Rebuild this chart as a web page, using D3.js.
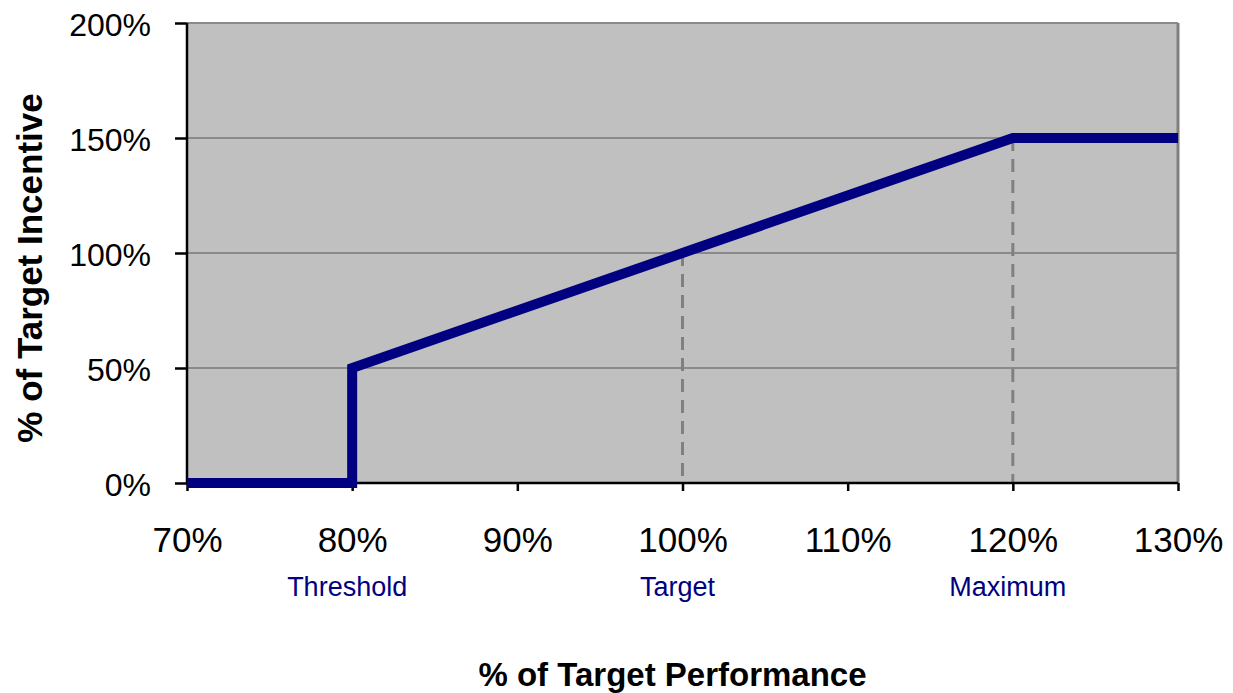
<!DOCTYPE html>
<html>
<head>
<meta charset="utf-8">
<script src="https://cdn.jsdelivr.net/npm/d3@7"></script>
<style>
  html, body { margin: 0; padding: 0; background: #fff; }
  svg { display: block; font-family: "Liberation Sans", Arial, sans-serif; }
</style>
</head>
<body>
<svg id="chart" width="1233" height="693"></svg>
<script>
// Incentive payout curve: % of target incentive earned vs % of target performance
const perfPoints = [70, 80, 80, 120, 130];
const incentivePoints = [0, 0, 50, 150, 150];

const xTickValues = [70, 80, 90, 100, 110, 120, 130];
const yTickValues = [0, 50, 100, 150, 200];

const milestoneNames = ["Threshold", "Target", "Maximum"];
const milestonePerf = [80, 100, 120];
const milestoneIncentive = [50, 100, 150];

const xTitle = "% of Target Performance";
const yTitle = "% of Target Incentive";

const W = 1233, H = 693;
const margin = { top: 23, right: 55, bottom: 210, left: 187 };
const iw = W - margin.left - margin.right;
const ih = H - margin.top - margin.bottom;

const svg = d3.select("#chart");
const g = svg.append("g").attr("transform", `translate(${margin.left},${margin.top})`);

const x = d3.scaleLinear().domain([70, 130]).range([0, iw]);
const y = d3.scaleLinear().domain([0, 200]).range([ih, 0]);

// plot background
g.append("rect").attr("x", 0).attr("y", 0).attr("width", iw).attr("height", ih)
  .attr("fill", "#c0c0c0");

// horizontal gridlines
g.selectAll("line.grid").data(yTickValues.filter(d => d > 0)).join("line")
  .attr("class", "grid")
  .attr("x1", 0).attr("x2", iw)
  .attr("y1", d => y(d)).attr("y2", d => y(d))
  .attr("stroke", "#8a8a8a").attr("stroke-width", 2);

// right border
g.append("line").attr("x1", iw).attr("x2", iw).attr("y1", 0).attr("y2", ih)
  .attr("stroke", "#808080").attr("stroke-width", 3);

// dashed drop lines for target and maximum
const drops = milestonePerf.map((p, i) => ({ p, v: milestoneIncentive[i] })).filter(d => d.p !== perfPoints[1]);
g.selectAll("line.drop").data(drops).join("line")
  .attr("class", "drop")
  .attr("x1", d => x(d.p)).attr("x2", d => x(d.p))
  .attr("y1", d => y(d.v)).attr("y2", y(0))
  .attr("stroke", "#808080").attr("stroke-width", 3)
  .attr("stroke-dasharray", "13,8");

// axes
const yAxis = g.append("g")
  .call(d3.axisLeft(y).tickValues(yTickValues).tickFormat(d => d + "%").tickSize(12).tickPadding(24));
yAxis.select(".domain").attr("stroke", "#000").attr("stroke-width", 2.5).attr("d", `M0,0V${ih}`);
yAxis.selectAll(".tick line").attr("stroke", "#000").attr("stroke-width", 2.5);
yAxis.selectAll(".tick text").attr("font-size", 32).attr("fill", "#000").attr("dy", "0.38em")
  .attr("font-family", "Liberation Sans, Arial, sans-serif");

const xAxis = g.append("g").attr("transform", `translate(0,${ih})`)
  .call(d3.axisBottom(x).tickValues(xTickValues).tickFormat(d => d + "%").tickSize(8).tickPadding(36));
xAxis.select(".domain").attr("stroke", "#000").attr("stroke-width", 2.5).attr("d", `M0,0H${iw}`);
xAxis.selectAll(".tick line").attr("stroke", "#000").attr("stroke-width", 2.5);
xAxis.selectAll(".tick text").attr("font-size", 35).attr("fill", "#000")
  .attr("font-family", "Liberation Sans, Arial, sans-serif");

// payout line
const line = d3.line().x(d => x(d[0])).y(d => y(d[1]));
g.append("path")
  .datum(perfPoints.map((p, i) => [p, incentivePoints[i]]))
  .attr("d", line)
  .attr("fill", "none")
  .attr("stroke", "#000080")
  .attr("stroke-width", 10)
  .attr("stroke-linejoin", "miter")
  .attr("stroke-linecap", "butt");

// milestone names under the axis
g.selectAll("text.milestone").data(milestoneNames).join("text")
  .attr("class", "milestone")
  .attr("x", (d, i) => x(milestonePerf[i]) - 5)
  .attr("y", ih + 113)
  .attr("text-anchor", "middle")
  .attr("font-size", 27)
  .attr("fill", "#000080")
  .text(d => d);

// axis titles
svg.append("text")
  .attr("x", margin.left + iw / 2 - 10)
  .attr("y", 686)
  .attr("text-anchor", "middle")
  .attr("font-size", 33)
  .attr("font-weight", "bold")
  .attr("fill", "#000")
  .text(xTitle);

svg.append("text")
  .attr("transform", `translate(42,268) rotate(-90)`)
  .attr("text-anchor", "middle")
  .attr("font-size", 35)
  .attr("font-weight", "bold")
  .attr("fill", "#000")
  .text(yTitle);
</script>
</body>
</html>
